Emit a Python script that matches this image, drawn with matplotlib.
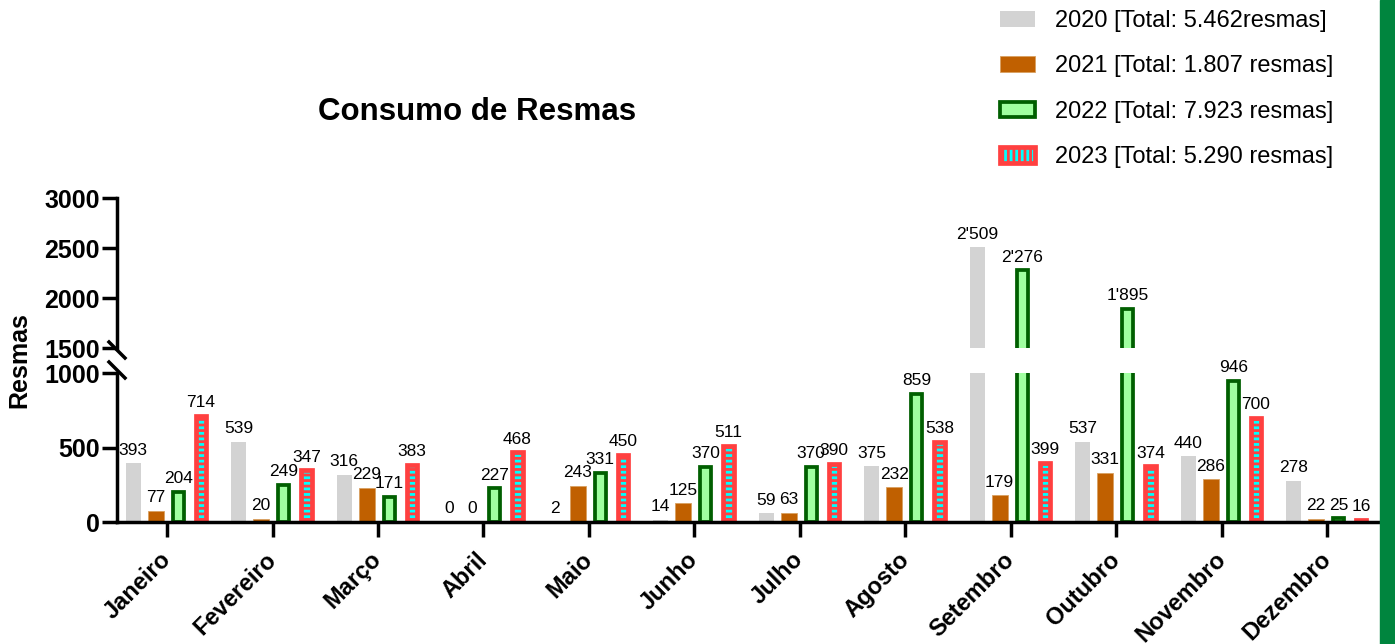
import numpy as np
import matplotlib.pyplot as plt
from matplotlib.patches import Patch, Rectangle

plt.rcParams['font.family'] = ['Liberation Sans', 'DejaVu Sans']
plt.rcParams['hatch.linewidth'] = 2.0

meses = ['Janeiro', 'Fevereiro', 'Março', 'Abril', 'Maio', 'Junho', 'Julho',
         'Agosto', 'Setembro', 'Outubro', 'Novembro', 'Dezembro']
v2020 = [393, 539, 316, 0, 2, 14, 59, 375, 2509, 537, 440, 278]
v2021 = [77, 20, 229, 0, 243, 125, 63, 232, 179, 331, 286, 22]
v2022 = [204, 249, 171, 227, 331, 370, 370, 859, 2276, 1895, 946, 25]
v2023 = [714, 347, 383, 468, 450, 511, 390, 538, 399, 374, 700, 16]
legendas = ['2020 [Total: 5.462resmas]', '2021 [Total: 1.807 resmas]',
            '2022 [Total: 7.923 resmas]', '2023 [Total: 5.290 resmas]']

series = [v2020, v2021, v2022, v2023]
# estilo de cada ano: largura, cor, borda, espessura, hachura
estilos = [
    dict(width=0.142, color='#D3D3D3', edgecolor='#D3D3D3', linewidth=0, hatch=None),
    dict(width=0.150, color='#C06000', edgecolor='#D9A060', linewidth=0.6, hatch=None),
    dict(width=0.104, color='#A0FFA0', edgecolor='#005F00', linewidth=2.7, hatch=None),
    dict(width=0.098, color='#00FFFF', edgecolor='#FF4040', linewidth=3.4, hatch='---'),
]

W, H = 1395, 644
fig = plt.figure(figsize=(W / 100, H / 100), dpi=100)
ax_lo = fig.add_axes([117 / W, 1 - 522 / H, 1265 / W, 149 / H])
ax_hi = fig.add_axes([117 / W, 1 - 348 / H, 1265 / W, 150 / H], sharex=ax_lo)

x = np.arange(len(meses))
offsets = np.array([-1.5, -0.5, 0.5, 1.5]) * 0.214

for vals, st, off in zip(series, estilos, offsets):
    for ax in (ax_lo, ax_hi):
        ax.bar(x + off, vals, **st)
    for xi, v in zip(x + off, vals):
        ax = ax_lo if v < 1000 else ax_hi
        ax.annotate(f"{v:,}".replace(',', "'"), (xi, v), xytext=(0, 4),
                    textcoords='offset points', ha='center', va='bottom',
                    fontsize=12.5, color='black')

ax_lo.set_xlim(-0.474, 11.517)
ax_lo.set_ylim(0, 1000)
ax_hi.set_ylim(1500, 3000)

for ax in (ax_lo, ax_hi):
    ax.spines['top'].set_visible(False)
    ax.spines['right'].set_visible(False)
    ax.spines['left'].set_linewidth(2.5)
    ax.spines['bottom'].set_linewidth(2.5)
    ax.tick_params(axis='both', direction='out', length=10.5, width=2.5,
                   labelsize=18, pad=2)
    ax.patch.set_alpha(0)
ax_hi.spines['bottom'].set_visible(False)
ax_hi.tick_params(axis='x', bottom=False, labelbottom=False)

ax_lo.set_yticks([0, 500, 1000], ['0', '500', '1000'], fontweight='bold')
ax_hi.set_yticks([1500, 2000, 2500, 3000], ['1500', '2000', '2500', '3000'],
                 fontweight='bold')
ax_lo.set_xticks(x, meses, rotation=45, ha='right', va='center',
                 rotation_mode='anchor', fontweight='bold', fontsize=17)
ax_lo.tick_params(axis='x', pad=14)

# marcas de quebra do eixo
dx, dy = 8 / 1265, 8 / 150
c = -2 / 150
ax_hi.plot([-dx, dx], [c + dy, c - dy], transform=ax_hi.transAxes,
           color='black', lw=2.5, clip_on=False)
dy2 = 8 / 149
c2 = 1 + 3 / 149
ax_lo.plot([-dx, dx], [c2 + dy2, c2 - dy2], transform=ax_lo.transAxes,
           color='black', lw=2.5, clip_on=False)

fig.text(477 / W, 1 - 112 / H, 'Consumo de Resmas', ha='center', va='center',
         fontsize=22.5, fontweight='bold')
fig.text(19 / W, 1 - 360 / H, 'Resmas', ha='center', va='center',
         rotation=90, fontsize=18, fontweight='bold')

handles = [Patch(facecolor=st['color'], edgecolor=st['edgecolor'],
                 linewidth=st['linewidth'],
                 hatch='|||' if st['hatch'] else None) for st in estilos]
fig.legend(handles, legendas, loc='upper left',
           bbox_to_anchor=(1000 / W, 1 - 10 / H), frameon=False, fontsize=17,
           handlelength=1.5, handleheight=0.65, handletextpad=0.85,
           labelspacing=0.99, borderaxespad=0, borderpad=0)

fig.add_artist(Rectangle((1380 / W, 0), 15 / W, 1, transform=fig.transFigure,
                         color='#00853E', zorder=10))

fig.savefig('out.png', dpi=100)
